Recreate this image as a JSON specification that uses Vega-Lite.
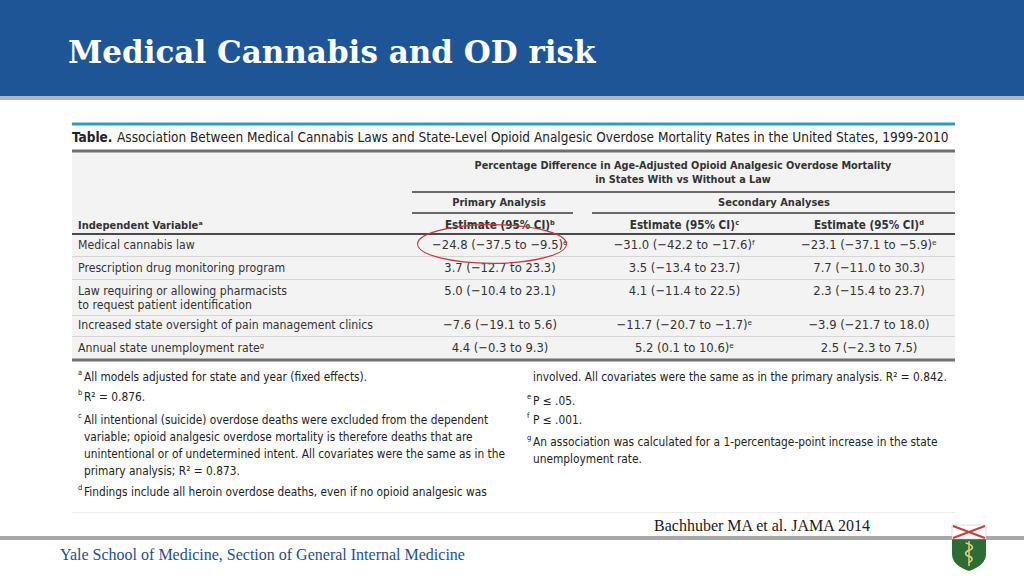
{
  "$schema": "https://vega.github.io/schema/vega-lite/v6.json",
  "width": 1024,
  "height": 576,
  "autosize": {"type": "none"},
  "padding": 0,
  "background": "#ffffff",
  "config": {"view": {"stroke": null}, "axis": {"disable": true}},
  "resolve": {"scale": {"x": "independent", "y": "independent"}},
  "datasets": {
    "table": [
      {"row": 1, "variable": "Medical cannabis law", "primary": "−24.8 (−37.5 to −9.5)ᵉ", "secondary_c": "−31.0 (−42.2 to −17.6)ᶠ", "secondary_d": "−23.1 (−37.1 to −5.9)ᵉ"},
      {"row": 2, "variable": "Prescription drug monitoring program", "primary": "3.7 (−12.7 to 23.3)", "secondary_c": "3.5 (−13.4 to 23.7)", "secondary_d": "7.7 (−11.0 to 30.3)"},
      {"row": 3, "variable": "Law requiring or allowing pharmacists\nto request patient identification", "primary": "5.0 (−10.4 to 23.1)", "secondary_c": "4.1 (−11.4 to 22.5)", "secondary_d": "2.3 (−15.4 to 23.7)"},
      {"row": 4, "variable": "Increased state oversight of pain management clinics", "primary": "−7.6 (−19.1 to 5.6)", "secondary_c": "−11.7 (−20.7 to −1.7)ᵉ", "secondary_d": "−3.9 (−21.7 to 18.0)"},
      {"row": 5, "variable": "Annual state unemployment rateᵍ", "primary": "4.4 (−0.3 to 9.3)", "secondary_c": "5.2 (0.1 to 10.6)ᵉ", "secondary_d": "2.5 (−2.3 to 7.5)"}
    ],
    "colHeaders": [
      {"row": 0, "analysis": "primary", "header": "Estimate (95% CI)ᵇ"},
      {"row": 0, "analysis": "secondary_c", "header": "Estimate (95% CI)ᶜ"},
      {"row": 0, "analysis": "secondary_d", "header": "Estimate (95% CI)ᵈ"}
    ],
    "notesLeft": [
      {"order": 1, "marker": "a", "text": "All models adjusted for state and year (fixed effects)."},
      {"order": 2, "marker": "b", "text": "R² = 0.876."},
      {"order": 3, "marker": "c", "text": "All intentional (suicide) overdose deaths were excluded from the dependent\nvariable; opioid analgesic overdose mortality is therefore deaths that are\nunintentional or of undetermined intent. All covariates were the same as in the\nprimary analysis; R² = 0.873."},
      {"order": 4, "marker": "d", "text": "Findings include all heroin overdose deaths, even if no opioid analgesic was"}
    ],
    "notesRight": [
      {"order": 1, "marker": "", "text": "involved. All covariates were the same as in the primary analysis. R² = 0.842."},
      {"order": 2, "marker": "e", "text": "P ≤ .05."},
      {"order": 3, "marker": "f", "text": "P ≤ .001."},
      {"order": 4, "marker": "g", "text": "An association was calculated for a 1-percentage-point increase in the state\nunemployment rate."}
    ]
  },
  "layer": [
    {
      "data": {"values": [{"slide": "Medical Cannabis and OD risk"}]},
      "layer": [
        {"mark": {"type": "rect", "color": "#1d5596"},
         "encoding": {
           "x": {"datum": 0, "type": "quantitative", "scale": {"domain": [0, 1024], "range": [0, 1024], "nice": false, "zero": false}},
           "x2": {"datum": 1024},
           "y": {"datum": 0, "type": "quantitative", "scale": {"domain": [0, 576], "range": [0, 576], "nice": false, "zero": false}},
           "y2": {"datum": 96}}},
        {"mark": {"type": "rect", "color": "#b1b5bd"},
         "encoding": {"x": {"datum": 0, "type": "quantitative"}, "x2": {"datum": 1024}, "y": {"datum": 96, "type": "quantitative"}, "y2": {"datum": 100}}},
        {"mark": {"type": "text", "align": "left", "baseline": "alphabetic", "font": "'DejaVu Serif', serif", "fontWeight": "bold", "fontSize": 31, "color": "#ffffff"},
         "encoding": {"x": {"datum": 68, "type": "quantitative"}, "y": {"datum": 63, "type": "quantitative"}, "text": {"field": "slide"}}},
        {"mark": {"type": "rect", "color": "#f3f3f3"},
         "encoding": {"x": {"datum": 72, "type": "quantitative"}, "x2": {"datum": 955}, "y": {"datum": 152, "type": "quantitative"}, "y2": {"datum": 359}}},
        {"mark": {"type": "rule", "color": "#2a9cbf", "strokeWidth": 3},
         "encoding": {"x": {"datum": 72, "type": "quantitative"}, "x2": {"datum": 955}, "y": {"datum": 124, "type": "quantitative"}}},
        {"mark": {"type": "rule", "color": "#707070", "strokeWidth": 3},
         "encoding": {"x": {"datum": 72, "type": "quantitative"}, "x2": {"datum": 955}, "y": {"datum": 151, "type": "quantitative"}}},
        {"mark": {"type": "rule", "color": "#707070", "strokeWidth": 3},
         "encoding": {"x": {"datum": 72, "type": "quantitative"}, "x2": {"datum": 955}, "y": {"datum": 360, "type": "quantitative"}}},
        {"mark": {"type": "rule", "color": "#3a3a3a", "strokeWidth": 1.5},
         "encoding": {"x": {"datum": 412, "type": "quantitative"}, "x2": {"datum": 955}, "y": {"datum": 192, "type": "quantitative"}}},
        {"mark": {"type": "rule", "color": "#3a3a3a", "strokeWidth": 1.5},
         "encoding": {"x": {"datum": 412, "type": "quantitative"}, "x2": {"datum": 573}, "y": {"datum": 213, "type": "quantitative"}}},
        {"mark": {"type": "rule", "color": "#3a3a3a", "strokeWidth": 1.5},
         "encoding": {"x": {"datum": 592, "type": "quantitative"}, "x2": {"datum": 955}, "y": {"datum": 213, "type": "quantitative"}}},
        {"mark": {"type": "rule", "color": "#4a4a4a", "strokeWidth": 2},
         "encoding": {"x": {"datum": 72, "type": "quantitative"}, "x2": {"datum": 955}, "y": {"datum": 234, "type": "quantitative"}}},
        {"mark": {"type": "rule", "color": "#d6d6d6", "strokeWidth": 1},
         "encoding": {"x": {"datum": 72, "type": "quantitative"}, "x2": {"datum": 955}, "y": {"datum": 256.5, "type": "quantitative"}}},
        {"mark": {"type": "rule", "color": "#d6d6d6", "strokeWidth": 1},
         "encoding": {"x": {"datum": 72, "type": "quantitative"}, "x2": {"datum": 955}, "y": {"datum": 279.5, "type": "quantitative"}}},
        {"mark": {"type": "rule", "color": "#d6d6d6", "strokeWidth": 1},
         "encoding": {"x": {"datum": 72, "type": "quantitative"}, "x2": {"datum": 955}, "y": {"datum": 315.5, "type": "quantitative"}}},
        {"mark": {"type": "rule", "color": "#d6d6d6", "strokeWidth": 1},
         "encoding": {"x": {"datum": 72, "type": "quantitative"}, "x2": {"datum": 955}, "y": {"datum": 336.5, "type": "quantitative"}}},
        {"mark": {"type": "rule", "color": "#ececec", "strokeWidth": 1},
         "encoding": {"x": {"datum": 72, "type": "quantitative"}, "x2": {"datum": 955}, "y": {"datum": 512.5, "type": "quantitative"}}},
        {"mark": {"type": "text", "align": "left", "baseline": "middle", "font": "'DejaVu Sans Condensed', sans-serif", "fontWeight": "bold", "fontSize": 13.5, "color": "#222222", "text": "Table."},
         "encoding": {"x": {"datum": 72, "type": "quantitative"}, "y": {"datum": 138, "type": "quantitative"}}},
        {"mark": {"type": "text", "align": "left", "baseline": "middle", "font": "'DejaVu Sans Condensed', sans-serif", "fontSize": 13.5, "color": "#222222", "text": "Association Between Medical Cannabis Laws and State-Level Opioid Analgesic Overdose Mortality Rates in the United States, 1999-2010"},
         "encoding": {"x": {"datum": 117, "type": "quantitative"}, "y": {"datum": 138, "type": "quantitative"}}},
        {"mark": {"type": "text", "align": "center", "baseline": "middle", "font": "'DejaVu Sans Condensed', sans-serif", "fontWeight": "bold", "fontSize": 10.8, "color": "#333333", "text": "Percentage Difference in Age-Adjusted Opioid Analgesic Overdose Mortality"},
         "encoding": {"x": {"datum": 683, "type": "quantitative"}, "y": {"datum": 166, "type": "quantitative"}}},
        {"mark": {"type": "text", "align": "center", "baseline": "middle", "font": "'DejaVu Sans Condensed', sans-serif", "fontWeight": "bold", "fontSize": 10.8, "color": "#333333", "text": "in States With vs Without a Law"},
         "encoding": {"x": {"datum": 683, "type": "quantitative"}, "y": {"datum": 180, "type": "quantitative"}}},
        {"mark": {"type": "text", "align": "center", "baseline": "middle", "font": "'DejaVu Sans Condensed', sans-serif", "fontWeight": "bold", "fontSize": 11, "color": "#333333", "text": "Primary Analysis"},
         "encoding": {"x": {"datum": 499, "type": "quantitative"}, "y": {"datum": 203, "type": "quantitative"}}},
        {"mark": {"type": "text", "align": "center", "baseline": "middle", "font": "'DejaVu Sans Condensed', sans-serif", "fontWeight": "bold", "fontSize": 11, "color": "#333333", "text": "Secondary Analyses"},
         "encoding": {"x": {"datum": 774, "type": "quantitative"}, "y": {"datum": 203, "type": "quantitative"}}},
        {"mark": {"type": "text", "align": "left", "baseline": "middle", "font": "'Liberation Serif', serif", "fontSize": 16, "color": "#1a1a1a", "text": "Bachhuber MA et al. JAMA 2014"},
         "encoding": {"x": {"datum": 654, "type": "quantitative"}, "y": {"datum": 526, "type": "quantitative"}}},
        {"mark": {"type": "rect", "color": "#a8a8a8"},
         "encoding": {"x": {"datum": 0, "type": "quantitative"}, "x2": {"datum": 1024}, "y": {"datum": 536, "type": "quantitative"}, "y2": {"datum": 540}}},
        {"mark": {"type": "text", "align": "left", "baseline": "middle", "font": "'Liberation Serif', serif", "fontSize": 16, "color": "#1f4e8c", "text": "Yale School of Medicine, Section of General Internal Medicine"},
         "encoding": {"x": {"datum": 60, "type": "quantitative"}, "y": {"datum": 555, "type": "quantitative"}}},
        {"mark": {"type": "point", "shape": "M -0.74 -1 L 0.74 -1 L 0.74 0.25 Q 0.74 0.75 0 1 Q -0.74 0.75 -0.74 0.25 Z", "size": 2116, "filled": true, "color": "#2f6b34", "opacity": 1},
         "encoding": {"x": {"datum": 969, "type": "quantitative"}, "y": {"datum": 548, "type": "quantitative"}}},
        {"mark": {"type": "rect", "color": "#ffffff", "stroke": "#bdbdbd", "strokeWidth": 0.5},
         "encoding": {"x": {"datum": 952, "type": "quantitative"}, "x2": {"datum": 986}, "y": {"datum": 525, "type": "quantitative"}, "y2": {"datum": 539}}},
        {"mark": {"type": "rule", "color": "#d23b3b", "strokeWidth": 2.2},
         "encoding": {"x": {"datum": 953, "type": "quantitative"}, "x2": {"datum": 985}, "y": {"datum": 526, "type": "quantitative"}, "y2": {"datum": 538}}},
        {"mark": {"type": "rule", "color": "#d23b3b", "strokeWidth": 2.2},
         "encoding": {"x": {"datum": 953, "type": "quantitative"}, "x2": {"datum": 985}, "y": {"datum": 538, "type": "quantitative"}, "y2": {"datum": 526}}},
        {"mark": {"type": "point", "shape": "M -0.3 -0.9 C 0.5 -0.7 0.4 -0.35 0 -0.25 C -0.4 -0.1 -0.4 0.2 0 0.3 C 0.4 0.4 0.35 0.7 -0.05 0.85", "size": 500, "filled": false, "stroke": "#d9d27a", "strokeWidth": 1.6, "opacity": 1},
         "encoding": {"x": {"datum": 969, "type": "quantitative"}, "y": {"datum": 553, "type": "quantitative"}}},
        {"mark": {"type": "rule", "color": "#d9d27a", "strokeWidth": 1.5},
         "encoding": {"x": {"datum": 969, "type": "quantitative"}, "y": {"datum": 541, "type": "quantitative"}, "y2": {"datum": 566}}}
      ]
    },
    {
      "data": {"name": "table"},
      "layer": [
        {"mark": {"type": "text", "align": "left", "baseline": "middle", "font": "'DejaVu Sans Condensed', sans-serif", "fontSize": 12.2, "color": "#333333", "lineBreak": "\n", "lineHeight": 14},
         "encoding": {
           "x": {"datum": 78, "type": "quantitative", "scale": {"domain": [0, 1024], "range": [0, 1024], "nice": false, "zero": false}},
           "y": {"field": "row", "type": "quantitative", "scale": {"domain": [0, 1, 2, 3, 4, 5], "range": [226, 245, 268, 291, 325, 348], "nice": false, "zero": false}},
           "text": {"field": "variable"}}},
        {"data": {"values": [{"row": 0, "label": "Independent Variableᵃ"}]},
         "mark": {"type": "text", "align": "left", "baseline": "middle", "font": "'DejaVu Sans Condensed', sans-serif", "fontWeight": "bold", "fontSize": 11, "color": "#333333"},
         "encoding": {"x": {"datum": 78, "type": "quantitative"}, "y": {"field": "row", "type": "quantitative"}, "text": {"field": "label"}}}
      ]
    },
    {
      "layer": [
        {"data": {"name": "table"},
         "transform": [{"fold": ["primary", "secondary_c", "secondary_d"], "as": ["analysis", "estimate"]}],
         "mark": {"type": "text", "align": "center", "baseline": "middle", "font": "'DejaVu Sans Condensed', sans-serif", "fontSize": 12.9, "color": "#333333"},
         "encoding": {
           "x": {"field": "analysis", "type": "nominal", "scale": {"type": "point", "domain": ["primary", "secondary_c", "secondary_d"], "range": [500, 869], "padding": 0}},
           "y": {"field": "row", "type": "quantitative", "scale": {"domain": [0, 1, 2, 3, 4, 5], "range": [226, 245, 268, 291, 325, 348], "nice": false, "zero": false}},
           "text": {"field": "estimate"}}},
        {"data": {"name": "colHeaders"},
         "mark": {"type": "text", "align": "center", "baseline": "middle", "font": "'DejaVu Sans Condensed', sans-serif", "fontWeight": "bold", "fontSize": 11.6, "color": "#333333"},
         "encoding": {"x": {"field": "analysis", "type": "nominal"}, "y": {"field": "row", "type": "quantitative"}, "text": {"field": "header"}}},
        {"data": {"name": "table"},
         "transform": [{"fold": ["primary", "secondary_c", "secondary_d"], "as": ["analysis", "estimate"]}, {"filter": "datum.row === 1 && datum.analysis === 'primary'"}],
         "mark": {"type": "point", "shape": "M -1 0 A 1 0.26 0 1 0 1 0 A 1 0.26 0 1 0 -1 0 Z", "size": 22201, "filled": false, "stroke": "#c8383c", "strokeWidth": 1.2, "opacity": 1, "xOffset": -8, "yOffset": -1},
         "encoding": {"x": {"field": "analysis", "type": "nominal"}, "y": {"field": "row", "type": "quantitative"}}}
      ]
    },
    {
      "data": {"name": "notesLeft"},
      "layer": [
        {"mark": {"type": "text", "align": "left", "baseline": "middle", "font": "'DejaVu Sans Condensed', sans-serif", "fontSize": 11.8, "color": "#222222", "lineBreak": "\n", "lineHeight": 17},
         "encoding": {
           "x": {"datum": 84, "type": "quantitative", "scale": {"domain": [0, 1024], "range": [0, 1024], "nice": false, "zero": false}},
           "y": {"field": "order", "type": "quantitative", "scale": {"domain": [1, 2, 3, 4], "range": [377, 397, 420, 492], "nice": false, "zero": false}},
           "text": {"field": "text"}}},
        {"mark": {"type": "text", "align": "left", "baseline": "middle", "font": "'DejaVu Sans Condensed', sans-serif", "fontSize": 7.5, "color": "#222222", "dx": -6, "dy": -4},
         "encoding": {"x": {"datum": 84, "type": "quantitative"}, "y": {"field": "order", "type": "quantitative"}, "text": {"field": "marker"}}}
      ]
    },
    {
      "data": {"name": "notesRight"},
      "layer": [
        {"mark": {"type": "text", "align": "left", "baseline": "middle", "font": "'DejaVu Sans Condensed', sans-serif", "fontSize": 11.8, "color": "#222222", "lineBreak": "\n", "lineHeight": 17},
         "encoding": {
           "x": {"datum": 533, "type": "quantitative", "scale": {"domain": [0, 1024], "range": [0, 1024], "nice": false, "zero": false}},
           "y": {"field": "order", "type": "quantitative", "scale": {"domain": [1, 2, 3, 4], "range": [377, 401, 420, 442], "nice": false, "zero": false}},
           "text": {"field": "text"}}},
        {"mark": {"type": "text", "align": "left", "baseline": "middle", "font": "'DejaVu Sans Condensed', sans-serif", "fontSize": 7.5, "color": "#222222", "dx": -6, "dy": -4},
         "encoding": {"x": {"datum": 533, "type": "quantitative"}, "y": {"field": "order", "type": "quantitative"}, "text": {"field": "marker"}}}
      ]
    }
  ]
}
